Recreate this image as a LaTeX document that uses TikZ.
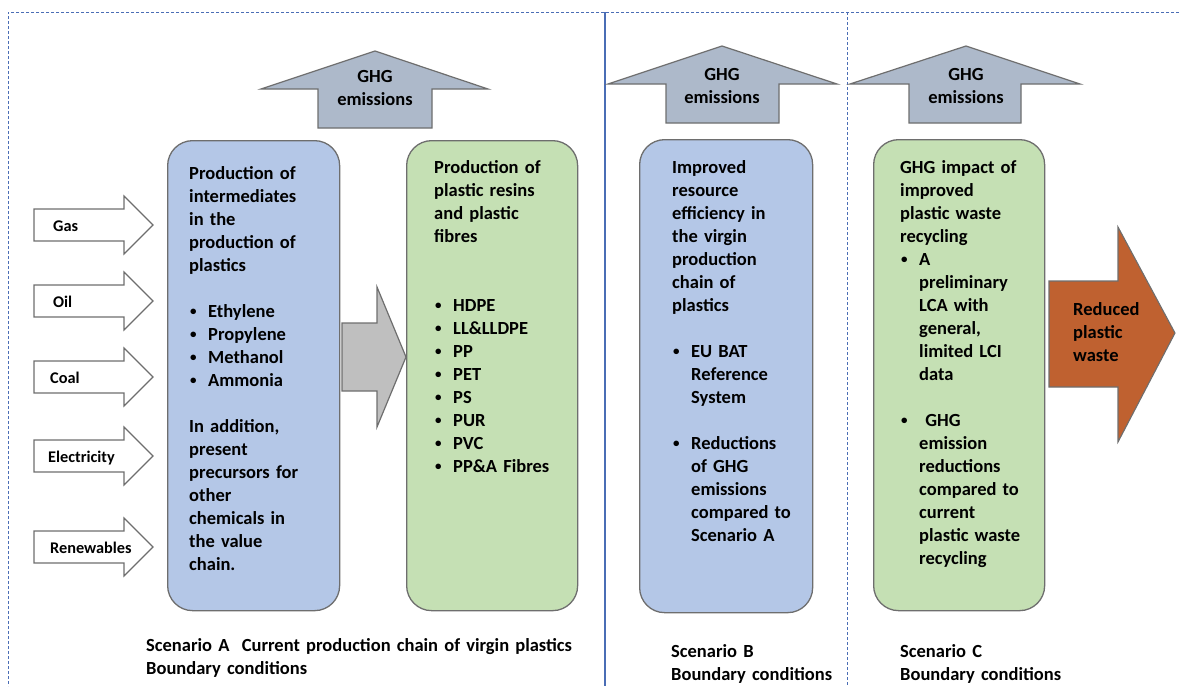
\documentclass[tikz,border=0pt]{standalone}
\usepackage{fontspec}
\setmainfont{Carlito}
\definecolor{frameblue}{HTML}{4A6DB5}
\definecolor{boxline}{HTML}{6E6E6E}
\definecolor{bluefill}{HTML}{B4C7E7}
\definecolor{greenfill}{HTML}{C5E0B4}
\definecolor{ghgfill}{HTML}{ADB9CA}
\definecolor{midfill}{HTML}{BFBFBF}
\definecolor{wastefill}{HTML}{BF6130}
\newcommand\bitem{\makebox[19pt][l]{\hspace*{1pt}\raisebox{1.6pt}{\fontsize{13}{13}\selectfont\textbullet}}}
\newcommand\bcont{\hspace*{19pt}}
\begin{document}
\begin{tikzpicture}[x=1pt,y=-1pt,
  frame/.style={draw=frameblue, line width=1pt, dash pattern=on 3pt off 2pt},
  divsolid/.style={draw=frameblue, line width=1.1pt},
  bluebox/.style={draw=boxline, line width=1.3pt, fill=bluefill, rounded corners=25pt, anchor=north west, inner sep=0pt},
  greenbox/.style={draw=boxline, line width=1.3pt, fill=greenfill, rounded corners=25pt, anchor=north west, inner sep=0pt},
  ghgarrow/.style={draw=boxline, line width=1.2pt, fill=ghgfill},
  midarrow/.style={draw=boxline, line width=1.2pt, fill=midfill},
  inarrow/.style={draw=boxline, line width=1.1pt, fill=white},
  wastearrow/.style={draw=boxline, line width=1.1pt, fill=wastefill},
  txt/.style={font=\fontsize{18.5}{23}\selectfont\bfseries, inner sep=0pt, anchor=base west, text width=220pt, align=left},
  lab/.style={font=\fontsize{18.5}{23}\selectfont\bfseries, inner sep=0pt, anchor=base},
  inlab/.style={font=\fontsize{16.3}{20}\selectfont\bfseries, inner sep=0pt, anchor=base west}
]
\useasboundingbox (0,0) rectangle (1179,686);

% frame and dividers
\draw[frame] (1179,12) -- (8,12) -- (8,686);
\draw[divsolid] (605,12) -- (605,686);
\draw[frame] (847,12) -- (847,686);

% GHG arrows
\draw[ghgarrow] (375,51) -- (488,89) -- (432,89) -- (432,128) -- (318,128) -- (318,89) -- (261,89) -- cycle;
\draw[ghgarrow] (722,46) -- (837,84) -- (779,84) -- (779,123) -- (666,123) -- (666,84) -- (608,84) -- cycle;
\draw[ghgarrow] (966,46) -- (1080,84) -- (1021,84) -- (1021,123) -- (909,123) -- (909,84) -- (850,84) -- cycle;
\node[lab] (ghgA1) at (375,82) {GHG};
\node[lab] (ghgA2) at (375,105) {emissions};
\node[lab] (ghgB1) at (722,80) {GHG};
\node[lab] (ghgB2) at (722,103) {emissions};
\node[lab] (ghgC1) at (966,80) {GHG};
\node[lab] (ghgC2) at (966,103) {emissions};

% input arrows
\foreach \cy/\lx/\lab/\nm in {225/53/Gas/gas, 301/53/Oil/oil, 377/50/Coal/coal, 456/48/Electricity/elec, 547/50/Renewables/ren}{
  \draw[inarrow] (34,\cy-16) -- (124,\cy-16) -- (124,\cy-29) -- (153,\cy) -- (124,\cy+29) -- (124,\cy+16) -- (34,\cy+16) -- cycle;
  \node[inlab] (\nm) at (\lx,\cy+6) {\lab};
}

% boxes
\node[bluebox, minimum width=172pt, minimum height=470pt] (boxA) at (167,140) {};
\node[greenbox, minimum width=171pt, minimum height=470pt] (boxA2) at (406,140) {};
\node[bluebox, minimum width=173pt, minimum height=473pt] (boxB) at (639,139) {};
\node[greenbox, minimum width=171pt, minimum height=471pt] (boxC) at (873,139) {};

% middle arrow
\draw[midarrow] (342,323) -- (377,323) -- (377,287) -- (406,357) -- (377,427) -- (377,391) -- (342,391) -- cycle;

% reduced plastic waste arrow
\draw[wastearrow] (1049,281) -- (1118,281) -- (1118,227) -- (1175,333) -- (1118,442) -- (1118,387) -- (1049,387) -- cycle;
\node[txt] (waste) at (1073,315) {Reduced\\plastic\\waste};

% box texts
\node[txt] (tA) at (189,179) {Production of\\intermediates\\in the\\production of\\plastics\\[23pt]
\bitem Ethylene\\\bitem Propylene\\\bitem Methanol\\\bitem Ammonia\\[23pt]
In addition,\\present\\precursors for\\other\\chemicals in\\the value\\chain.};

\node[txt] (tA2) at (434,173) {Production of\\plastic resins\\and plastic\\fibres\\[46pt]
\bitem HDPE\\\bitem LL\&LLDPE\\\bitem PP\\\bitem PET\\\bitem PS\\\bitem PUR\\\bitem PVC\\\bitem PP\&A Fibres};

\node[txt] (tB) at (672,173) {Improved\\resource\\efficiency in\\the virgin\\production\\chain of\\plastics\\[23pt]
\bitem EU BAT\\\bcont Reference\\\bcont System\\[23pt]
\bitem Reductions\\\bcont of GHG\\\bcont emissions\\\bcont compared to\\\bcont Scenario A};

\node[txt] (tC) at (900,173) {GHG impact of\\improved\\plastic waste\\recycling\\
\bitem A\\\bcont preliminary\\\bcont LCA with\\\bcont general,\\\bcont limited LCI\\\bcont data\\[23pt]
\bitem\ GHG\\\bcont emission\\\bcont reductions\\\bcont compared to\\\bcont current\\\bcont plastic waste\\\bcont recycling};

% bottom labels
\node[txt, text width=500pt] (scA) at (146,651) {Scenario A\ \ Current production chain of virgin plastics\\Boundary conditions};
\node[txt] (scB) at (671,657) {Scenario B\\Boundary conditions};
\node[txt] (scC) at (900,657) {Scenario C\\Boundary conditions};
\end{tikzpicture}
\end{document}
